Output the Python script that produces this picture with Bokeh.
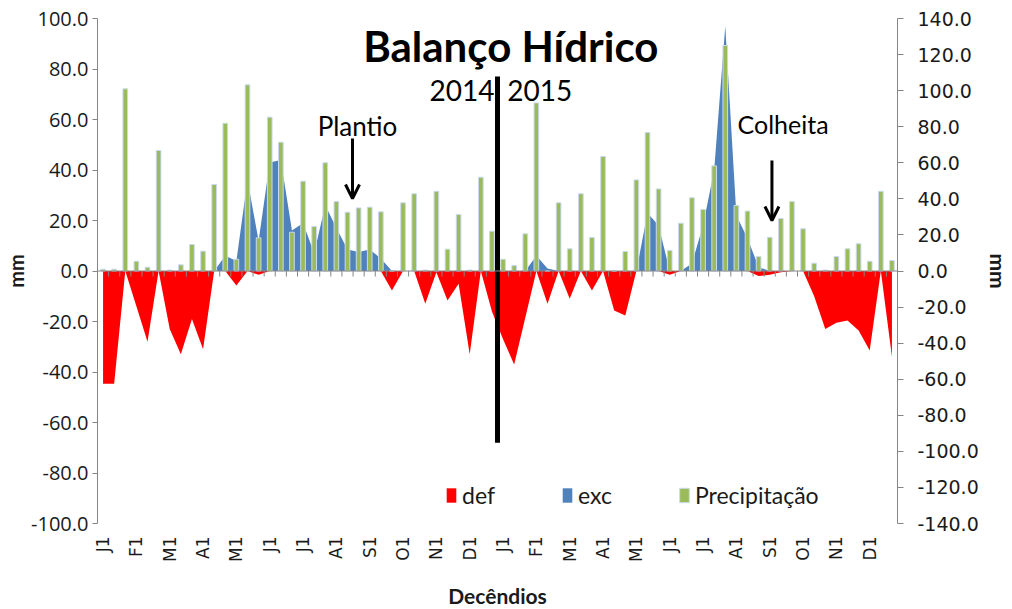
from bokeh.plotting import figure
from bokeh.models import (Range1d, LinearAxis, FixedTicker, Span, Label, Legend, LegendItem,
                          Arrow, OpenHead, NumeralTickFormatter, ColumnDataSource)
from bokeh.embed import file_html
from bokeh.resources import INLINE
import math

# ---------------- data ----------------
month_labels = ["J1", "F1", "M1", "A1", "M1", "J1", "J1", "A1", "S1", "O1", "N1", "D1"] * 2
decendio = list(range(72))

precipitacao = [1.0, 1.0, 101.0, 5.4, 2.1, 66.8, 0.5, 3.4, 14.7, 11.0, 48.0, 81.9,
                6.5, 103.2, 18.4, 85.3, 71.4, 21.5, 49.8, 24.7, 60.0, 38.5, 32.6, 35.0,
                35.4, 32.8, 0.0, 37.8, 42.8, 0.5, 44.2, 12.1, 31.3, 0.5, 52.0, 22.1,
                6.5, 3.0, 20.6, 93.2, 0.0, 37.8, 12.3, 42.8, 18.6, 63.5, 0.0, 10.8,
                50.5, 76.8, 45.5, 11.4, 26.5, 40.6, 34.1, 58.3, 125.0, 36.3, 33.2, 8.0,
                18.7, 29.1, 38.5, 23.4, 4.3, 0.5, 8.0, 12.3, 15.1, 5.4, 44.2, 5.8]

exc = [0, 0, 0, 0, 0, 0, 0, 0, 0, 0, 0, 6,
       4, 36, 12, 43, 44, 16, 19, 7, 26, 17, 8.5, 7.5,
       8.5, 5, 0, 0, 0, 0, 0, 0, 0, 0, 0, 0,
       0, 0, 0, 6, 1, 0, 0, 0, 0, 0, 0, 0,
       0, 23, 18, 0, 0, 3, 18, 40, 97, 22, 13, 1.5,
       0, 0, 0, 0, 0, 0, 0, 0, 0, 0, 0, 0]

deficit = [-44.7, -44.7, 0, -14, -28, 0, -23, -33, -19, -31, 0, 0,
           -5.7, 0, -1.5, 0, 0, 0, 0, 0, 0, 0, 0, 0,
           0, 0, -7.7, 0, 0, -13, -0.5, -11.7, -5, -33, 0, -16,
           -27, -37, -18.5, 0, -13, 0, -11, 0, -7.7, 0, -15.6, -17.6,
           0, 0, 0, -1.5, 0, 0, 0, 0, 0, 0, 0, -2,
           -1.5, -0.5, 0, 0, -10, -23, -20.5, -19.6, -23.6, -31.5, 0, -34]

left_ticks = list(range(-100, 101, 20))
right_ticks = list(range(-140, 141, 20))
label_positions = list(range(0, 72, 3))

src = ColumnDataSource(dict(x=decendio, prec=precipitacao, exc=exc, defi=deficit))

# ---------------- figure ----------------
p = figure(frame_width=800, frame_height=505,
           x_range=Range1d(-0.5, 71.5), y_range=Range1d(-100, 100),
           output_backend="svg", toolbar_location=None,
           min_border_left=97, min_border_right=113, min_border_top=18, min_border_bottom=85)
p.extra_y_ranges = {"right": Range1d(-140, 140)}
p.outline_line_color = None
p.xgrid.visible = False
p.ygrid.visible = False
p.background_fill_color = "white"

axis_gray = "#868686"
label_color = "#1a1a1a"

# areas
r_def = p.varea(x="x", y1=0, y2="defi", source=src, fill_color="#FF0000")
r_exc = p.varea(x="x", y1=0, y2="exc", source=src, fill_color="#4F81BD")
# precipitation bars (right axis)
r_prec = p.vbar(x="x", top="prec", bottom=0, width=0.42, source=src, y_range_name="right",
                fill_color="#9BBB59", line_color="#C9DAEE", line_width=1)

# zero axis with tick marks at category boundaries
p.add_layout(Span(location=0, dimension="width", line_color=axis_gray, line_width=1))
bounds = [k + 0.5 for k in range(71)]
p.segment(x0=bounds, y0=[0] * len(bounds), x1=bounds, y1=[-2.2] * len(bounds),
          line_color=axis_gray, line_width=1)

# year divider
p.segment(x0=[35.5], y0=[-68], x1=[35.5], y1=[77], line_color="black", line_width=5)

# texts
p.add_layout(Label(x=36.7, y=89.0, text="Balanço Hídrico", text_align="center",
                   text_baseline="middle", text_font_size="42px", text_font_style="bold",
                   text_font="Lato", text_color="black"))
p.add_layout(Label(x=32.3, y=71.5, text="2014", text_align="center", text_baseline="middle",
                   text_font_size="28px", text_font="Lato", text_color="black"))
p.add_layout(Label(x=39.3, y=71.5, text="2015", text_align="center", text_baseline="middle",
                   text_font_size="28px", text_font="Lato", text_color="black"))
p.add_layout(Label(x=22.9, y=57.6, text="Plantio", text_align="center", text_baseline="middle",
                   text_font_size="26px", text_font="Lato", text_color="black"))
p.add_layout(Label(x=61.2, y=58.4, text="Colheita", text_align="center", text_baseline="middle",
                   text_font_size="25px", text_font="Lato", text_color="black"))

p.add_layout(Arrow(end=OpenHead(size=14, line_width=3, line_color="black"),
                   x_start=22.45, y_start=52.5, x_end=22.45, y_end=28.7,
                   line_width=3, line_color="black"))
p.add_layout(Arrow(end=OpenHead(size=14, line_width=3, line_color="black"),
                   x_start=60.2, y_start=43.8, x_end=60.2, y_end=20.0,
                   line_width=3, line_color="black"))

# x axis (labels low)
xa = p.xaxis[0]
xa.ticker = FixedTicker(ticks=label_positions)
xa.major_label_overrides = {pos: lab for pos, lab in zip(label_positions, month_labels)}
xa.major_label_orientation = math.pi / 2
xa.axis_line_color = None
xa.major_tick_line_color = None
xa.minor_tick_line_color = None
xa.major_label_standoff = 7
xa.major_label_text_font = "DejaVu Sans"
xa.major_label_text_font_size = "17px"
xa.major_label_text_color = label_color
xa.axis_label = "Decêndios"
xa.axis_label_text_font = "Lato"
xa.axis_label_text_font_style = "bold"
xa.axis_label_text_font_size = "21px"
xa.axis_label_text_color = "#1a1a1a"
xa.axis_label_standoff = 18

# left y axis
ya = p.yaxis[0]
ya.ticker = FixedTicker(ticks=left_ticks)
ya.formatter = NumeralTickFormatter(format="0.0")
ya.axis_line_color = axis_gray
ya.major_tick_line_color = axis_gray
ya.major_tick_out = 5
ya.major_tick_in = 0
ya.minor_tick_line_color = None
ya.major_label_standoff = 4
ya.major_label_text_font = "Open Sans"
ya.major_label_text_font_size = "20px"
ya.major_label_text_color = label_color
ya.axis_label = "mm"
ya.axis_label_text_font = "Lato"
ya.axis_label_text_font_style = "bold"
ya.axis_label_text_font_size = "20px"
ya.axis_label_text_color = "#1a1a1a"
ya.axis_label_standoff = 0

# right y axis
ra = LinearAxis(y_range_name="right", ticker=FixedTicker(ticks=right_ticks),
                formatter=NumeralTickFormatter(format="0.0"))
ra.axis_line_color = axis_gray
ra.major_tick_line_color = axis_gray
ra.major_tick_out = 6
ra.major_tick_in = 0
ra.minor_tick_line_color = None
ra.major_label_standoff = 14
ra.major_label_text_font = "DejaVu Sans"
ra.major_label_text_font_size = "19px"
ra.major_label_text_color = label_color
ra.axis_label = "mm"
ra.axis_label_text_font = "Lato"
ra.axis_label_text_font_style = "bold"
ra.axis_label_text_font_size = "21px"
ra.axis_label_text_color = "#1a1a1a"
ra.axis_label_standoff = 4
p.add_layout(ra, "right")

legend = Legend(items=[LegendItem(label="def", renderers=[r_def]),
                       LegendItem(label="exc", renderers=[r_exc]),
                       LegendItem(label="Precipitação", renderers=[r_prec])],
                orientation="horizontal", location=(348, 14),
                glyph_width=12, glyph_height=18, spacing=66, label_standoff=5,
                padding=0, margin=0, background_fill_alpha=0, border_line_color=None,
                label_text_font="Lato", label_text_font_size="23px", label_text_color="#1a1a1a")
p.add_layout(legend, "center")

open("out.html", "w").write(file_html(p, INLINE))
